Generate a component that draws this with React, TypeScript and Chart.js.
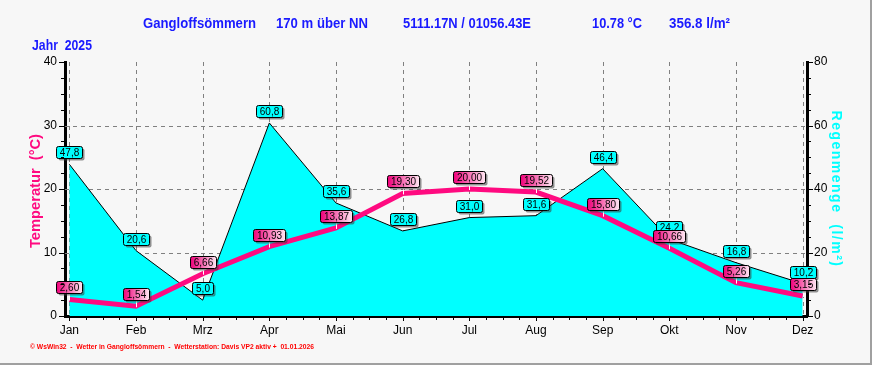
import React, { useEffect, useRef } from "react";
import { Chart, registerables } from "chart.js";

Chart.register(...registerables);

const months = ["Jan", "Feb", "Mrz", "Apr", "Mai", "Jun", "Jul", "Aug", "Sep", "Okt", "Nov", "Dez"];
const temperature = [2.6, 1.54, 6.66, 10.93, 13.87, 19.3, 20.0, 19.52, 15.8, 10.66, 5.26, 3.15];
const rain = [47.8, 20.6, 5.0, 60.8, 35.6, 26.8, 31.0, 31.6, 46.4, 24.2, 16.8, 10.2];
const tempTicks = [0, 10, 20, 30, 40];
const rainTicks = [0, 20, 40, 60, 80];
const tempGridLines = [10, 20, 30];
const titleParts = ["Gangloffsömmern", "170 m über NN", "5111.17N / 01056.43E", "10.78 °C", "356.8 l/m²"];
const yearLabel = "Jahr  2025";
const tempTitle = "Temperatur  (°C)";
const rainTitle = "Regenmenge  (l/m²)";
const footerText = "© WsWin32  -  Wetter in Gangloffsömmern  -  Wetterstation: Davis VP2 aktiv +  01.01.2026";

const W = 872;
const H = 365;
const TEMP_COLOR = "#ff0a80";
const RAIN_COLOR = "#00ffff";
const BLUE = "#1a1aff";
const SANS = '"Liberation Sans", Arial, sans-serif';

function fmt(v: number, d: number) {
  return v.toFixed(d).replace(".", ",");
}

function roundRect(ctx: CanvasRenderingContext2D, x: number, y: number, w: number, h: number, r: number) {
  ctx.beginPath();
  ctx.moveTo(x + r, y);
  ctx.lineTo(x + w - r, y);
  ctx.quadraticCurveTo(x + w, y, x + w, y + r);
  ctx.lineTo(x + w, y + h - r);
  ctx.quadraticCurveTo(x + w, y + h, x + w - r, y + h);
  ctx.lineTo(x + r, y + h);
  ctx.quadraticCurveTo(x, y + h, x, y + h - r);
  ctx.lineTo(x, y + r);
  ctx.quadraticCurveTo(x, y, x + r, y);
  ctx.closePath();
}

function drawLabel(ctx: CanvasRenderingContext2D, text: string, cx: number, cy: number, kind: "rain" | "temp") {
  ctx.save();
  ctx.font = "10px " + SANS;
  const w = Math.round(ctx.measureText(text).width + 7);
  const h = 12;
  const x = Math.round(cx - w / 2) + 0.5;
  const y = Math.round(cy - h / 2) + 0.5;
  ctx.fillStyle = "rgba(60,60,60,0.55)";
  roundRect(ctx, x + 2, y + 2, w, h, 2);
  ctx.fill();
  if (kind === "rain") {
    ctx.fillStyle = RAIN_COLOR;
  } else {
    const g = ctx.createLinearGradient(x, 0, x + w, 0);
    g.addColorStop(0, "#f0007a");
    g.addColorStop(1, "#ffe8f3");
    ctx.fillStyle = g;
  }
  roundRect(ctx, x, y, w, h, 2);
  ctx.fill();
  ctx.strokeStyle = "#000";
  ctx.lineWidth = 1;
  ctx.stroke();
  ctx.fillStyle = "#000";
  ctx.textAlign = "center";
  ctx.textBaseline = "middle";
  ctx.fillText(text, x + w / 2, y + h / 2 + 0.5);
  ctx.restore();
}

const decorPlugin = {
  id: "decor",
  beforeDraw(chart: any) {
    const ctx = chart.ctx as CanvasRenderingContext2D;
    ctx.save();
    ctx.fillStyle = "#f7f7f7";
    ctx.fillRect(0, 0, W, H);
    ctx.fillStyle = "#a0a0a0";
    ctx.fillRect(W - 2, 0, 2, H);
    ctx.fillRect(0, H - 2, W, 2);
    ctx.restore();
  },
  beforeDatasetsDraw(chart: any) {
    const ctx = chart.ctx as CanvasRenderingContext2D;
    const { top, bottom, left, right } = chart.chartArea;
    const xs = chart.scales.x;
    const ys = chart.scales.y;
    ctx.save();
    ctx.strokeStyle = "#808080";
    ctx.lineWidth = 1;
    ctx.setLineDash([4, 4]);
    months.forEach((_, i) => {
      const px = Math.round(xs.getPixelForValue(i)) + 0.5;
      ctx.beginPath();
      ctx.moveTo(px, top);
      ctx.lineTo(px, bottom);
      ctx.stroke();
    });
    tempGridLines.forEach((v) => {
      const py = Math.round(ys.getPixelForValue(v)) + 0.5;
      ctx.beginPath();
      ctx.moveTo(left, py);
      ctx.lineTo(right, py);
      ctx.stroke();
    });
    ctx.restore();
  },
  afterDatasetsDraw(chart: any) {
    const ctx = chart.ctx as CanvasRenderingContext2D;
    const tempMeta = chart.getDatasetMeta(0);
    const rainMeta = chart.getDatasetMeta(1);
    rainMeta.data.forEach((pt: any, i: number) => {
      drawLabel(ctx, fmt(rain[i], 1), pt.x, pt.y - 12, "rain");
    });
    tempMeta.data.forEach((pt: any, i: number) => {
      ctx.save();
      ctx.strokeStyle = "#ffffff";
      ctx.lineWidth = 1;
      const px = Math.round(pt.x) + 0.5;
      ctx.beginPath();
      ctx.moveTo(px, pt.y - 6);
      ctx.lineTo(px, pt.y + 1);
      ctx.stroke();
      ctx.restore();
      drawLabel(ctx, fmt(temperature[i], 2), pt.x, pt.y - 12, "temp");
    });
  },
  afterDraw(chart: any) {
    const ctx = chart.ctx as CanvasRenderingContext2D;
    const { bottom, left, right } = chart.chartArea;
    const xs = chart.scales.x;
    const ys = chart.scales.y;
    const y1 = chart.scales.y1;
    ctx.save();
    ctx.strokeStyle = "#000";
    ctx.lineWidth = 1;
    for (let v = 0; v <= 40; v += 2.5) {
      const py = Math.round(ys.getPixelForValue(v)) + 0.5;
      const len = v % 10 === 0 ? 5 : 3;
      ctx.beginPath();
      ctx.moveTo(left - 1, py);
      ctx.lineTo(left - 1 - len, py);
      ctx.stroke();
    }
    for (let v = 0; v <= 80; v += 5) {
      const py = Math.round(y1.getPixelForValue(v)) + 0.5;
      const len = v % 20 === 0 ? 5 : 3;
      ctx.beginPath();
      ctx.moveTo(right + 1, py);
      ctx.lineTo(right + 1 + len, py);
      ctx.stroke();
    }
    for (let v = 0; v <= 11; v += 0.25) {
      const px = Math.round(xs.getPixelForValue(v)) + 0.5;
      const len = Number.isInteger(v) ? 4 : 3;
      ctx.beginPath();
      ctx.moveTo(px, bottom + 1);
      ctx.lineTo(px, bottom + 1 + len);
      ctx.stroke();
    }

    ctx.fillStyle = BLUE;
    ctx.textBaseline = "middle";
    ctx.textAlign = "left";
    ctx.font = "bold 15px " + SANS;
    const hx = [143, 276, 403, 592, 669];
    const hw = [113, 92, 128, 50, 61];
    titleParts.forEach((t, i) => ctx.fillText(t, hx[i], 24, hw[i]));
    ctx.fillText(yearLabel, 32, 46, 60);

    ctx.save();
    ctx.translate(36, 191);
    ctx.rotate(-Math.PI / 2);
    ctx.textAlign = "center";
    ctx.fillStyle = TEMP_COLOR;
    ctx.font = "bold 15px " + SANS;
    ctx.fillText(tempTitle, 0, 0, 114);
    ctx.restore();

    ctx.save();
    ctx.translate(836, 189);
    ctx.rotate(Math.PI / 2);
    ctx.textAlign = "center";
    ctx.fillStyle = RAIN_COLOR;
    ctx.font = "bold 14px " + SANS;
    (ctx as any).letterSpacing = "1.5px";
    ctx.fillText(rainTitle, 0, 0);
    ctx.restore();

    ctx.fillStyle = "#ff0000";
    ctx.font = "bold 8px " + SANS;
    ctx.textAlign = "left";
    ctx.fillText(footerText, 30, 347, 284);
    ctx.restore();
  },
};

export default function App() {
  const ref = useRef<HTMLCanvasElement>(null);

  useEffect(() => {
    if (!ref.current) return;
    const monthTicks = () => months.map((_, i) => ({ value: i }));
    const chart = new Chart(ref.current, {
      type: "line",
      data: {
        datasets: [
          {
            label: "Temperatur",
            data: temperature.map((v, i) => ({ x: i, y: v })),
            yAxisID: "y",
            borderColor: TEMP_COLOR,
            borderWidth: 5,
            pointRadius: 0,
            tension: 0,
            fill: false,
            order: 0,
          },
          {
            label: "Regenmenge",
            data: rain.map((v, i) => ({ x: i, y: v })),
            yAxisID: "y1",
            borderColor: "#000000",
            borderWidth: 1,
            backgroundColor: RAIN_COLOR,
            pointRadius: 0,
            tension: 0,
            fill: "origin",
            order: 1,
          },
        ],
      },
      options: {
        responsive: false,
        animation: false,
        devicePixelRatio: 1,
        layout: { padding: { top: 62, left: 0, right: 0, bottom: 0 } },
        plugins: { legend: { display: false }, tooltip: { enabled: false }, title: { display: false } },
        scales: {
          x: {
            type: "linear",
            position: "bottom",
            min: -0.065,
            max: 11.065,
            afterBuildTicks: (s: any) => {
              s.ticks = monthTicks();
            },
            afterFit: (s: any) => {
              s.height = 49;
            },
            ticks: {
              autoSkip: false,
              maxRotation: 0,
              padding: 7,
              color: "#000",
              font: { family: SANS, size: 12 },
              callback: (v: any) => months[Math.round(Number(v))] ?? "",
            },
            grid: { display: false, drawTicks: false },
            border: { display: true, color: "#000", width: 3 },
          },
          y: {
            type: "linear",
            position: "left",
            min: 0,
            max: 40,
            afterBuildTicks: (s: any) => {
              s.ticks = tempTicks.map((v) => ({ value: v }));
            },
            afterFit: (s: any) => {
              s.width = 65;
            },
            ticks: {
              padding: 8,
              color: "#000",
              font: { family: SANS, size: 12 },
            },
            grid: { display: false, drawTicks: false },
            border: { display: true, color: "#000", width: 3 },
          },
          y1: {
            type: "linear",
            position: "right",
            min: 0,
            max: 80,
            afterBuildTicks: (s: any) => {
              s.ticks = rainTicks.map((v) => ({ value: v }));
            },
            afterFit: (s: any) => {
              s.width = 65;
            },
            ticks: {
              padding: 7,
              color: "#000",
              font: { family: SANS, size: 12 },
            },
            grid: { display: false, drawTicks: false },
            border: { display: true, color: "#000", width: 3 },
          },
        },
      },
      plugins: [decorPlugin],
    } as any);
    return () => chart.destroy();
  }, []);

  return (
    <div style={{ position: "absolute", left: 0, top: 0, width: W, height: H }}>
      <canvas ref={ref} width={W} height={H} style={{ display: "block", width: W, height: H }} />
    </div>
  );
}
